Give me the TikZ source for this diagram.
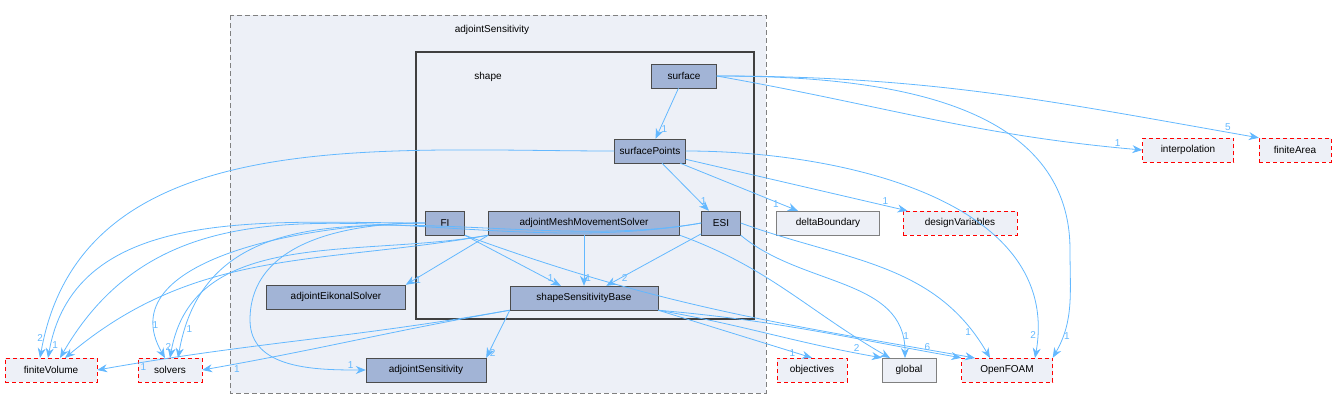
\documentclass[tikz,border=0pt]{standalone}
\usepackage{fontspec}
\setmainfont{Liberation Sans}
\usetikzlibrary{arrows.meta}
\definecolor{cl}{HTML}{EDF0F7}
\definecolor{df}{HTML}{A2B4D6}
\definecolor{ec}{HTML}{63B8FF}
\begin{document}
\begin{tikzpicture}[x=1pt,y=-1pt,
 every node/.style={font=\fontsize{10}{12}\selectfont},
 dir/.style={draw=black!70,fill=df,minimum height=24pt,inner sep=3pt,anchor=center},
 ext/.style={draw=red,dashed,dash pattern=on 4pt off 3pt,fill=cl,minimum height=24pt,inner sep=4pt},
 ext2/.style={draw=gray,fill=cl,minimum height=24pt,inner sep=4pt},
 e/.style={draw=ec,-{Stealth[length=10pt,width=8pt]},thick},
 lb/.style={text=ec,font=\fontsize{10}{12}\selectfont,inner sep=1pt}]
\useasboundingbox (0,0) rectangle (1340,410);
\draw[gray,dash pattern=on 5pt off 3pt,thick,fill=cl] (230,15) rectangle (766,393);
\node at (492,30) {adjointSensitivity};
\draw[black!75,line width=1.6pt,fill=cl] (416,52) rectangle (754,319);
\node at (488,77) {shape};
\node[dir,minimum width=65pt] (surface) at (684,76) {surface};
\node[dir,minimum width=71pt] (sp) at (650,151) {surfacePoints};
\node[dir,minimum width=39pt] (esi) at (721,223) {ESI};
\node[dir,minimum width=39pt] (fi) at (445,223) {FI};
\node[dir,minimum width=191pt] (amm) at (584,223) {adjointMeshMovementSolver};
\node[dir,minimum width=148pt] (ssb) at (584,298) {shapeSensitivityBase};
\node[dir,minimum width=139pt] (aes) at (336,297) {adjointEikonalSolver};
\node[dir,minimum width=120pt] (as) at (426,370) {adjointSensitivity};
\node[ext,minimum width=92pt] (fv) at (51,370) {finiteVolume};
\node[ext,minimum width=64pt] (sol) at (170,370) {solvers};
\node[ext,minimum width=70pt] (obj) at (812,370) {objectives};
\node[ext2,minimum width=54pt] (glob) at (909,370) {global};
\node[ext,minimum width=91pt] (of) at (1007,370) {OpenFOAM};
\node[ext2,minimum width=103pt] (db) at (828,223) {deltaBoundary};
\node[ext,minimum width=114pt] (dv) at (960,223) {designVariables};
\node[ext,minimum width=91pt] (interp) at (1188,150) {interpolation};
\node[ext,minimum width=72pt] (fa) at (1295,150) {finiteArea};
% surface
\draw[e] (surface) -- node[lb,pos=.8,right]{1} (sp);
\draw[e] (surface.east) to[out=-10,in=175] node[lb,pos=.95,above]{1} (interp.west);
\draw[e] (surface.east) to[out=0,in=170] node[lb,pos=.95,above]{5} (fa.north west);
\draw[e] (surface.east) to[out=0,in=90] (1070,250) to[out=-90,in=60] node[lb,pos=.8,right]{1} (of.north east);
% surfacePoints
\draw[e] (sp) -- node[lb,pos=.8,right]{1} (esi);
\draw[e] (sp) -- node[lb,pos=.85,left]{1} (db);
\draw[e] (sp) -- node[lb,pos=.9,above]{1} (dv);
\draw[e] (sp.east) to[out=0,in=80] node[lb,pos=.95,left]{2} (1035,358);
\draw[e] (sp.west) to[out=180,in=80] node[lb,pos=.97,left]{2} (40,358);
% ESI
\draw[e] (esi) -- node[lb,pos=.85,right]{2} (ssb);
\draw[e] (esi.south east) to[out=-40,in=90] node[lb,pos=.9,right]{1} (905,358);
\draw[e] (esi.east) to[out=-20,in=120] node[lb,pos=.9,left]{1} (990,358);
\draw[e] (esi.west) to[out=190,in=60] (60,358);
\draw[e] (esi.west) to[out=190,in=80] node[lb,pos=.95,right]{1} (178,358);
% FI
\draw[e] (fi.south east) -- node[lb,pos=.85,right]{1} (ssb);
\draw[e] (fi.west) to[out=180,in=80] node[lb,pos=.97,right]{1} (48,358);
\draw[e] (fi.west) to[out=180,in=120] node[lb,pos=.9,above]{1} (165,358);
\draw[e] (fi.west) to[out=180,in=90] (250,320) to[out=-90,in=180] node[lb,pos=.9,above]{1} (as.west);
\draw[e] (fi.south east) to[out=-20,in=170] (975,358);
% adjointMeshMovementSolver
\draw[e] (amm) -- node[lb,pos=.85,right]{1} (ssb);
\draw[e] (amm.south west) -- node[lb,pos=.9,right]{1} (aes.north east);
\draw[e] (amm.south west) to[out=190,in=40] (65,358);
\draw[e] (amm.south west) to[out=190,in=80] node[lb,pos=.97,left]{2} (170,358);
\draw[e] (amm.south east) to[out=-20,in=150] (890,358);
% shapeSensitivityBase
\draw[e] (ssb.south west) -- node[lb,pos=.9,right]{2} (as.north east);
\draw[e] (ssb.south west) to[out=190,in=10] node[lb,pos=.9,below]{1} (fv.east);
\draw[e] (ssb.south west) to[out=190,in=10] node[lb,pos=.9,below]{1} (sol.east);
\draw[e] (ssb.south east) -- node[lb,pos=.9,left]{1} (obj.north);
\draw[e] (ssb.south east) to[out=-10,in=170] node[lb,pos=.9,above]{2} (glob.north west);
\draw[e] (ssb.south east) to[out=-5,in=170] node[lb,pos=.9,above]{6} (of.north west);
\end{tikzpicture}
\end{document}
